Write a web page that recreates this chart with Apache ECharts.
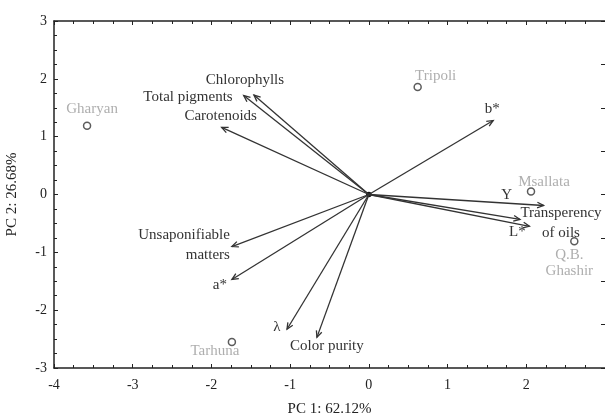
<!DOCTYPE html>
<html>
<head>
<meta charset="utf-8">
<script src="https://cdn.jsdelivr.net/npm/echarts@6/dist/echarts.min.js"></script>
<style>
  html, body { margin: 0; padding: 0; background: #fff; }
  #chart { width: 605px; height: 414px; }
</style>
</head>
<body>
<div id="chart"></div>
<script>
// loadings (arrows)
const varNames = ['Chlorophylls', 'Total pigments', 'Carotenoids', 'b*', 'Y', 'Transperency\nof oils', 'L*', 'Unsaponifiable\nmatters', 'a*', 'λ', 'Color purity']
const varPC1 = [-1.46, -1.59, -1.87, 1.58, 2.22, 1.92, 2.04, -1.74, -1.74, -1.04, -0.66]
const varPC2 = [1.72, 1.71, 1.16, 1.28, -0.19, -0.43, -0.55, -0.90, -1.47, -2.33, -2.47]

// scores (samples)
const siteNames = ['Gharyan', 'Tripoli', 'Msallata', 'Q.B.\nGhashir', 'Tarhuna']
const sitePC1 = [-3.58, 0.62, 2.06, 2.61, -1.74]
const sitePC2 = [1.19, 1.86, 0.05, -0.81, -2.55]

// label placement relative to the mark, in px: [dx, dy, align]
const varLabelPos = [
  [-9, -15, 'center'], [-11, 1, 'right'], [-1, -11, 'center'], [-1, -11, 'center'],
  [-37, -10, 'center'], [41, 4, 'center'], [-12, 6, 'center'], [-2, -1, 'right'],
  [-12, 6, 'center'], [-10, -2, 'center'], [10, 9, 'center'],
]
const siteLabelPos = [[5, -17], [18, -11], [13, -10], [-5, 22], [-17, 9]]

const FONT = '"Liberation Serif", "Times New Roman", serif'
const INK = '#333'

const chart = echarts.init(document.getElementById('chart'))

const arrowData = varNames.map((n, i) => [varPC1[i], varPC2[i], n])
const siteData = siteNames.map((n, i) => ({
  value: [sitePC1[i], sitePC2[i]],
  name: n,
  label: { offset: [siteLabelPos[i][0], siteLabelPos[i][1]] },
}))

function renderArrow(params, api) {
  const o = api.coord([0, 0])
  const t = api.coord([api.value(0), api.value(1)])
  const i = params.dataIndex
  const ang = Math.atan2(t[1] - o[1], t[0] - o[0])
  const len = 7, spread = 0.42
  const h1 = [t[0] - len * Math.cos(ang - spread), t[1] - len * Math.sin(ang - spread)]
  const h2 = [t[0] - len * Math.cos(ang + spread), t[1] - len * Math.sin(ang + spread)]
  const lp = varLabelPos[i]
  const children = [
    { type: 'line', shape: { x1: o[0], y1: o[1], x2: t[0], y2: t[1] }, style: { stroke: INK, lineWidth: 1.3 } },
    { type: 'polyline', shape: { points: [h1, t, h2] }, style: { stroke: INK, lineWidth: 1.3, fill: null } },
    {
      type: 'text',
      x: t[0] + lp[0],
      y: t[1] + lp[1],
      style: {
        text: varNames[i],
        fill: INK,
        fontFamily: FONT,
        fontSize: 15,
        align: lp[2],
        verticalAlign: 'middle',
        lineHeight: 20,
      },
    },
  ]
  if (i === 0) {
    children.push({ type: 'circle', shape: { cx: o[0], cy: o[1], r: 2.8 }, style: { fill: '#111' } })
  }
  return { type: 'group', children }
}

const axisLine = { show: true, onZero: false, lineStyle: { color: '#222', width: 1.5 } }
const tick = { show: true, inside: true, length: 4, lineStyle: { color: '#222', width: 1 } }
const minorTick = { show: true, splitNumber: 4, length: 3, lineStyle: { color: '#222', width: 1 } }

const option = {
  animation: false,
  backgroundColor: '#fff',
  grid: { left: 54, right: 0, top: 21, bottom: 46, containLabel: false, outerBoundsMode: 'none' },
  xAxis: [
    {
      type: 'value', min: -4, max: 3, interval: 1, position: 'bottom',
      name: 'PC 1: 62.12%', nameLocation: 'middle', nameGap: 34,
      nameTextStyle: { fontFamily: FONT, fontSize: 15, color: '#222' },
      axisLine, axisTick: tick, minorTick,
      axisLabel: { fontFamily: FONT, fontSize: 14, color: '#222', margin: 10, showMaxLabel: false },
      splitLine: { show: false },
    },
    {
      type: 'value', min: -4, max: 3, interval: 1, position: 'top',
      axisLine, axisTick: tick, minorTick,
      axisLabel: { show: false }, splitLine: { show: false },
    },
  ],
  yAxis: [
    {
      type: 'value', min: -3, max: 3, interval: 1, position: 'left',
      name: 'PC 2: 26.68%', nameLocation: 'middle', nameGap: 34, nameRotate: 90,
      nameTextStyle: { fontFamily: FONT, fontSize: 15, color: '#222' },
      axisLine, axisTick: tick, minorTick,
      axisLabel: { fontFamily: FONT, fontSize: 14, color: '#222', margin: 7 },
      splitLine: { show: false },
    },
    {
      type: 'value', min: -3, max: 3, interval: 0.75, position: 'right',
      axisLine: { show: false, onZero: false }, axisTick: tick,
      axisLabel: { show: false }, splitLine: { show: false },
    },
  ],
  series: [
    {
      type: 'custom',
      renderItem: renderArrow,
      data: arrowData,
      encode: { x: 0, y: 1 },
      silent: true,
      z: 3,
    },
    {
      type: 'scatter',
      data: siteData,
      symbol: 'circle',
      symbolSize: 7,
      itemStyle: { color: '#fff', borderColor: INK, borderWidth: 1.5 },
      label: {
        show: true,
        position: 'inside',
        formatter: p => p.name,
        fontFamily: FONT,
        fontSize: 15,
        color: '#9a9a9a',
        lineHeight: 16,
        align: 'center',
        verticalAlign: 'middle',
      },
      silent: true,
      z: 4,
    },
  ],
}

chart.setOption(option)
</script>
</body>
</html>
